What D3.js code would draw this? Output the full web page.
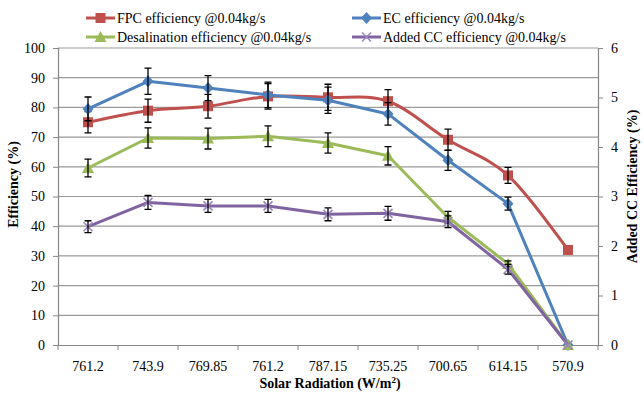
<!DOCTYPE html>
<html>
	<head>
		<meta charset="utf-8">
		<title>Efficiency vs Solar Radiation</title>
		<script src="https://d3js.org/d3.v7.min.js"></script>
		<style>
			body { margin: 0; background-color: white }
			#plot { width: 644px; height: 395px }
		</style>
	</head>
	<body>
		<div id='plot'></div>
		<script>
			// data
			var categories = ['761.2','743.9','769.85','761.2','787.15','735.25','700.65','614.15','570.9']
			var fpc      = [75.0, 78.9, 80.4, 83.7, 83.4, 82.1, 69.1, 57.1, 32.0]
			var fpcErr   = [3.6, 3.9, 4.0, 4.3, 4.4, 3.9, 3.6, 2.7, 0]
			var ec       = [79.5, 88.8, 86.5, 84.2, 82.4, 77.8, 62.2, 47.6, 0]
			var ecErr    = [4.0, 4.4, 4.2, 4.3, 4.4, 3.8, 3.4, 2.2, 0]
			var desal    = [59.6, 69.7, 69.5, 70.3, 68.0, 63.7, 43.0, 27.3, 0]
			var desalErr = [3.0, 3.4, 3.5, 3.5, 3.4, 3.1, 2.0, 1.0, 0]
			// added CC is on the secondary axis (0-6)
			var addedCC    = [2.39, 2.88, 2.81, 2.81, 2.64, 2.66, 2.49, 1.53, 0]
			var addedCCErr = [0.12, 0.14, 0.13, 0.13, 0.13, 0.14, 0.12, 0.10, 0]
			var leftTicks = [0,10,20,30,40,50,60,70,80,90,100]
			var rightTicks = [0,1,2,3,4,5,6]

			var FONT = "'Liberation Serif', 'Times New Roman', serif"
			var margin = {top:48, bottom:50, left:58, right:46}
			var width = 644 - margin.left - margin.right
			var height = 395 - margin.top - margin.bottom

			var root = d3.select('#plot').append('svg')
						.attr('width', 644)
						.attr('height', 395)
						.style('font-family', FONT)
			var svg = root.append('g')
						.attr('transform','translate('+margin.left+','+margin.top+')')

			var x = d3.scaleBand().domain(d3.range(categories.length)).range([0, width])
			var y = d3.scaleLinear().domain([0,100]).range([height, 0])
			var y2 = d3.scaleLinear().domain([0,6]).range([height, 0])
			var cx = function(i){ return x(i) + x.bandwidth()/2 }

			//GRID
			svg.selectAll('.grid')
				.data(leftTicks.slice(1))
				.enter()
				.append('line')
					.attr('class','grid')
					.attr('x1',0).attr('x2',width)
					.attr('y1',function(d){return y(d)}).attr('y2',function(d){return y(d)})
					.attr('stroke','#9a9a9a')
					.attr('stroke-width',1.2)

			//AXES
			var axL = svg.append('g')
				.call(d3.axisLeft(y).tickValues(leftTicks).tickSize(5).tickPadding(8))
			var axR = svg.append('g')
				.attr('transform','translate('+width+',0)')
				.call(d3.axisRight(y2).tickValues(rightTicks).tickSize(5).tickPadding(8).tickFormat(d3.format('d')))
			var axB = svg.append('g')
				.attr('transform','translate(0,'+height+')')
				.call(d3.axisBottom(x).tickSize(0).tickPadding(16).tickFormat(function(i){return categories[i]}))
			// x ticks sit on band boundaries
			axB.selectAll('.bt')
				.data(d3.range(categories.length + 1))
				.enter()
				.append('line')
					.attr('x1',function(i){return i*x.bandwidth()})
					.attr('x2',function(i){return i*x.bandwidth()})
					.attr('y1',0).attr('y2',5)
					.attr('stroke','#868686')
			;[axL, axR, axB].forEach(function(a){
				a.attr('font-family', FONT)
				a.selectAll('path').attr('stroke','#868686').attr('stroke-width',1.2)
				a.selectAll('.tick line').attr('stroke','#868686')
				a.selectAll('text').style('font-family', FONT).style('font-size','14px').attr('fill','black')
			})

			//TITLES
			svg.append('text')
				.attr('transform','translate(-40,'+(height/2 - 12)+') rotate(-90)')
				.attr('text-anchor','middle')
				.style('font-size','14px').style('font-weight','bold')
				.text('Efficiency (%)')
			svg.append('text')
				.attr('transform','translate('+(width+39)+','+(height/2 - 10)+') rotate(-90)')
				.attr('text-anchor','middle')
				.style('font-size','14px').style('font-weight','bold')
				.text('Added CC Efficiency (%)')
			var xt = svg.append('text')
				.attr('x',width/2+2)
				.attr('y',height+43)
				.attr('text-anchor','middle')
				.style('font-size','14px').style('font-weight','bold')
			xt.append('tspan').text('Solar Radiation (W/m')
			xt.append('tspan').attr('dy',-5).style('font-size','9px').text('2')
			xt.append('tspan').attr('dy',5).text(')')

			//SERIES
			var series = [
				{name:'FPC efficiency @0.04kg/s', vals:fpc, err:fpcErr, scale:y, color:'#C0504D', marker:'square', smooth:true},
				{name:'EC efficiency @0.04kg/s', vals:ec, err:ecErr, scale:y, color:'#4F81BD', marker:'diamond', smooth:false},
				{name:'Desalination efficiency @0.04kg/s', vals:desal, err:desalErr, scale:y, color:'#9BBB59', marker:'triangle', smooth:false},
				{name:'Added CC efficiency @0.04kg/s', vals:addedCC, err:addedCCErr, scale:y2, color:'#8064A2', marker:'x', smooth:false}
			]

			function drawMarker(g, s, px, py) {
				if(s.marker=='square') {
					g.append('rect').attr('x',px-5).attr('y',py-5).attr('width',10).attr('height',10).attr('fill',s.color)
				} else if(s.marker=='diamond') {
					g.append('path').attr('d','M'+px+','+(py-6)+'L'+(px+5.5)+','+py+'L'+px+','+(py+6)+'L'+(px-5.5)+','+py+'Z').attr('fill',s.color)
				} else if(s.marker=='triangle') {
					g.append('path').attr('d','M'+px+','+(py-6)+'L'+(px+6)+','+(py+5)+'L'+(px-6)+','+(py+5)+'Z').attr('fill',s.color)
				} else {
					g.append('path').attr('d','M'+(px-4.5)+','+(py-4.5)+'L'+(px+4.5)+','+(py+4.5)+'M'+(px+4.5)+','+(py-4.5)+'L'+(px-4.5)+','+(py+4.5))
						.attr('stroke','#9b85c0').attr('stroke-width',1.6).attr('fill','none')
				}
			}

			series.forEach(function(s){
				var g = svg.append('g')
				var line = d3.line()
					.x(function(d,i){return cx(i)})
					.y(function(d){return s.scale(d)})
					.curve(s.smooth ? d3.curveCatmullRom.alpha(0) : d3.curveLinear)
				g.append('path')
					.datum(s.vals)
					.attr('d', line)
					.attr('fill','none')
					.attr('stroke', s.color)
					.attr('stroke-width', 3)
					.attr('stroke-linejoin','round')
				s.vals.forEach(function(v,i){ drawMarker(g, s, cx(i), s.scale(v)) })
				// error bars
				s.vals.forEach(function(v,i){
					if(!s.err[i]) return
					var px = cx(i), t = s.scale(v + s.err[i]), b = s.scale(v - s.err[i])
					g.append('path')
						.attr('d','M'+px+','+t+'V'+b+'M'+(px-3.5)+','+t+'H'+(px+3.5)+'M'+(px-3.5)+','+b+'H'+(px+3.5))
						.attr('stroke','black').attr('stroke-width',1.3).attr('fill','none')
				})
			})

			//LEGEND
			var legPos = [[86,18],[352,18],[86,37],[352,37]]
			series.forEach(function(s,i){
				var lg = root.append('g').attr('transform','translate('+legPos[i][0]+','+legPos[i][1]+')')
				lg.append('line').attr('x1',0).attr('x2',29).attr('y1',0).attr('y2',0)
					.attr('stroke',s.color).attr('stroke-width',3)
				drawMarker(lg, s, 14.5, 0)
				lg.append('text').attr('x',31).attr('y',5).style('font-size','14px').text(s.name)
			})
		</script>
	</body>
</html>
